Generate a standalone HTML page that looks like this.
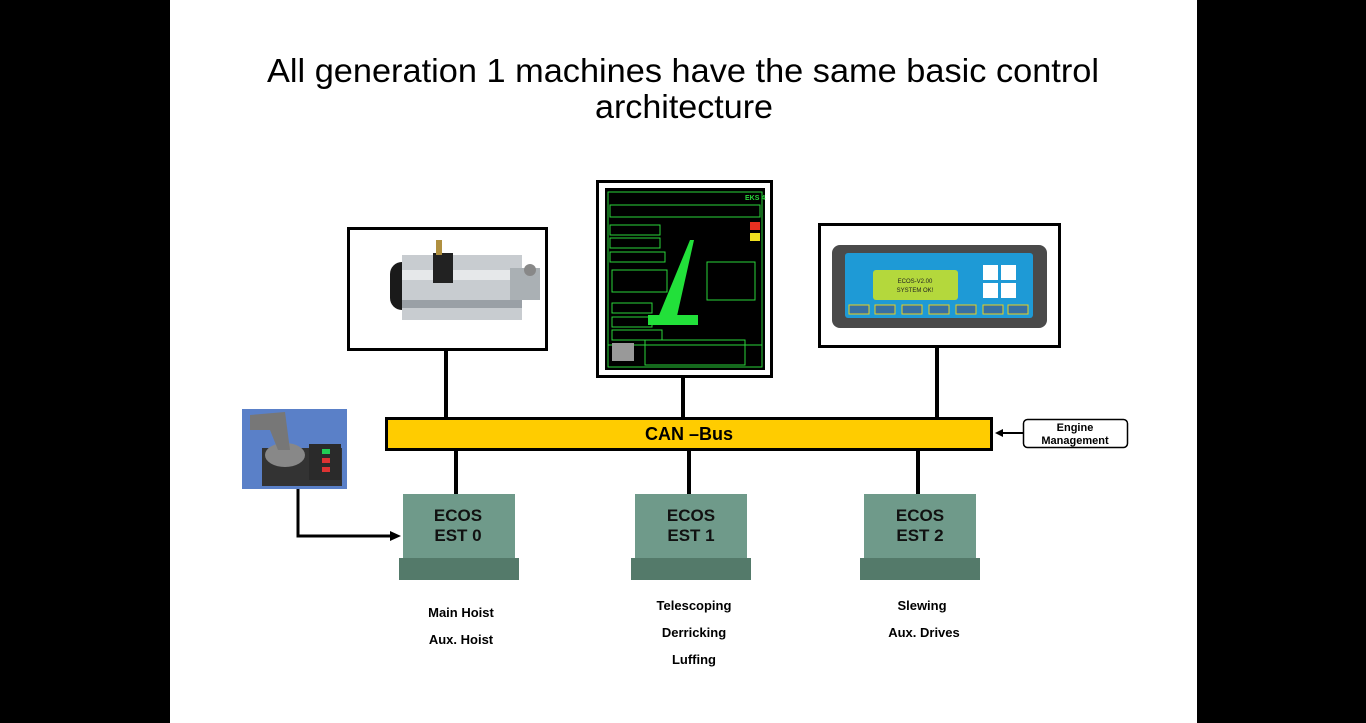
<!DOCTYPE html>
<html><head><meta charset="utf-8"><style>
html,body{margin:0;padding:0;background:#000;}
svg{display:block;font-family:"Liberation Sans",Arial,sans-serif;}
</style></head><body>
<svg width="1366" height="723" viewBox="0 0 1366 723" xmlns="http://www.w3.org/2000/svg">
<rect x="0" y="0" width="1366" height="723" fill="#000"/>
<rect x="170" y="0" width="1027" height="723" fill="#fff"/>
<text x="267" y="82" font-size="33" textLength="832" lengthAdjust="spacingAndGlyphs" fill="#000">All generation 1 machines have the same basic control</text>
<text x="595" y="118" font-size="33" textLength="178" lengthAdjust="spacingAndGlyphs" fill="#000">architecture</text>

<!-- connectors -->
<g stroke="#000" stroke-width="4">
<line x1="446" y1="351" x2="446" y2="418"/>
<line x1="683" y1="378" x2="683" y2="418"/>
<line x1="937" y1="347" x2="937" y2="418"/>
<line x1="456" y1="450" x2="456" y2="496"/>
<line x1="689" y1="450" x2="689" y2="496"/>
<line x1="918" y1="450" x2="918" y2="496"/>
<polyline points="298,488 298,536 392,536" fill="none" stroke-width="3"/>
<line x1="1023" y1="433" x2="1000" y2="433" stroke-width="2"/>
</g>
<polygon points="401,536 390,531 390,541" fill="#000"/>
<polygon points="995,433 1003,429 1003,437" fill="#000"/>

<!-- box1 motor -->
<rect x="348.5" y="228.5" width="198" height="121" fill="#fff" stroke="#000" stroke-width="3"/>
<rect x="390" y="262" width="46" height="48" rx="12" fill="#1a1a1a"/>
<rect x="402" y="255" width="120" height="65" fill="#c8ccd0"/>
<rect x="402" y="270" width="120" height="10" fill="#e6e8ea"/>
<rect x="402" y="300" width="120" height="8" fill="#9aa0a6"/>
<rect x="510" y="268" width="30" height="32" fill="#aab0b4"/>
<circle cx="530" cy="270" r="6" fill="#888"/>
<rect x="433" y="253" width="20" height="30" fill="#222"/>
<rect x="436" y="240" width="6" height="15" fill="#b09040"/>

<!-- box2 EKS panel -->
<rect x="597.5" y="181.5" width="174" height="195" fill="#fff" stroke="#000" stroke-width="3"/>
<rect x="605" y="188" width="160" height="182" fill="#000"/>
<g stroke="#2ad43a" stroke-width="1" fill="none">
<rect x="608" y="192" width="154" height="175"/>
<rect x="610" y="205" width="150" height="12"/>
<rect x="610" y="225" width="50" height="10"/>
<rect x="610" y="238" width="50" height="10"/>
<rect x="610" y="252" width="55" height="10"/>
<rect x="612" y="270" width="55" height="22"/>
<rect x="707" y="262" width="48" height="38"/>
<rect x="612" y="303" width="40" height="10"/>
<rect x="612" y="317" width="40" height="10"/>
<rect x="612" y="330" width="50" height="10"/>
<rect x="608" y="345" width="154" height="22"/>
<rect x="645" y="340" width="100" height="25"/>
</g>
<polygon points="655,325 690,240 694,240 675,325" fill="#22e03a"/>
<rect x="648" y="315" width="50" height="10" fill="#22e03a"/>
<rect x="750" y="222" width="10" height="8" fill="#e83020"/>
<rect x="750" y="233" width="10" height="8" fill="#f0e020"/>
<rect x="612" y="343" width="22" height="18" fill="#999"/>
<text x="745" y="200" font-size="7" fill="#2ad43a" font-weight="bold">EKS 4</text>

<!-- box3 ECOS display -->
<rect x="819.5" y="224.5" width="240" height="122" fill="#fff" stroke="#000" stroke-width="3"/>
<rect x="832" y="245" width="215" height="83" rx="8" fill="#4a4a4a"/>
<rect x="845" y="253" width="188" height="65" rx="3" fill="#1e9ad6"/>
<rect x="873" y="270" width="85" height="30" rx="3" fill="#b4d83c"/>
<text x="915" y="283" font-size="6" text-anchor="middle" fill="#222">ECOS-V2.00</text>
<text x="915" y="292" font-size="6" text-anchor="middle" fill="#222">SYSTEM OK!</text>
<rect x="983" y="265" width="15" height="15" fill="#fff"/><rect x="1001" y="265" width="15" height="15" fill="#fff"/>
<rect x="983" y="283" width="15" height="15" fill="#fff"/><rect x="1001" y="283" width="15" height="15" fill="#fff"/>
<g fill="#3a6fa0" stroke="#e8d020" stroke-width="1">
<rect x="849" y="305" width="20" height="9"/><rect x="875" y="305" width="20" height="9"/><rect x="902" y="305" width="20" height="9"/><rect x="929" y="305" width="20" height="9"/><rect x="956" y="305" width="20" height="9"/><rect x="983" y="305" width="20" height="9"/><rect x="1008" y="305" width="20" height="9"/>
</g>

<!-- CAN bus -->
<rect x="386.5" y="418.5" width="605" height="31" fill="#ffcc00" stroke="#000" stroke-width="3"/>
<text x="689" y="440" font-size="18" font-weight="bold" text-anchor="middle" fill="#000">CAN –Bus</text>

<!-- Engine management -->
<rect x="1023.5" y="419.5" width="104" height="28" rx="4" fill="#fff" stroke="#000" stroke-width="1.5"/>
<text x="1075" y="431" font-size="11" font-weight="bold" text-anchor="middle">Engine</text>
<text x="1075" y="444" font-size="11" font-weight="bold" text-anchor="middle">Management</text>

<!-- joystick -->
<rect x="242" y="409" width="105" height="80" fill="#5a80c8"/>
<rect x="262" y="448" width="80" height="38" fill="#333"/>
<rect x="309" y="444" width="32" height="36" fill="#2a2a2a"/>
<ellipse cx="285" cy="455" rx="20" ry="12" fill="#888"/>
<polygon points="250,415 285,412 290,450 278,450 270,430 250,430" fill="#777"/>
<rect x="322" y="449" width="8" height="5" fill="#2c5"/><rect x="322" y="458" width="8" height="5" fill="#d33"/><rect x="322" y="467" width="8" height="5" fill="#d33"/>

<!-- ECOS modules -->
<g font-size="17" font-weight="bold" text-anchor="middle" fill="#111">
<rect x="403" y="494" width="112" height="66" fill="#6f9a8a"/>
<rect x="399" y="558" width="120" height="22" fill="#547a6a"/>
<text x="458" y="521">ECOS</text><text x="458" y="541">EST 0</text>
<rect x="635" y="494" width="112" height="66" fill="#6f9a8a"/>
<rect x="631" y="558" width="120" height="22" fill="#547a6a"/>
<text x="691" y="521">ECOS</text><text x="691" y="541">EST 1</text>
<rect x="864" y="494" width="112" height="66" fill="#6f9a8a"/>
<rect x="860" y="558" width="120" height="22" fill="#547a6a"/>
<text x="920" y="521">ECOS</text><text x="920" y="541">EST 2</text>
</g>

<g font-size="13" font-weight="bold" text-anchor="middle" fill="#000">
<text x="461" y="617">Main Hoist</text>
<text x="461" y="644">Aux. Hoist</text>
<text x="694" y="610">Telescoping</text>
<text x="694" y="637">Derricking</text>
<text x="694" y="664">Luffing</text>
<text x="922" y="610">Slewing</text>
<text x="924" y="637">Aux. Drives</text>
</g>
</svg>
</body></html>
